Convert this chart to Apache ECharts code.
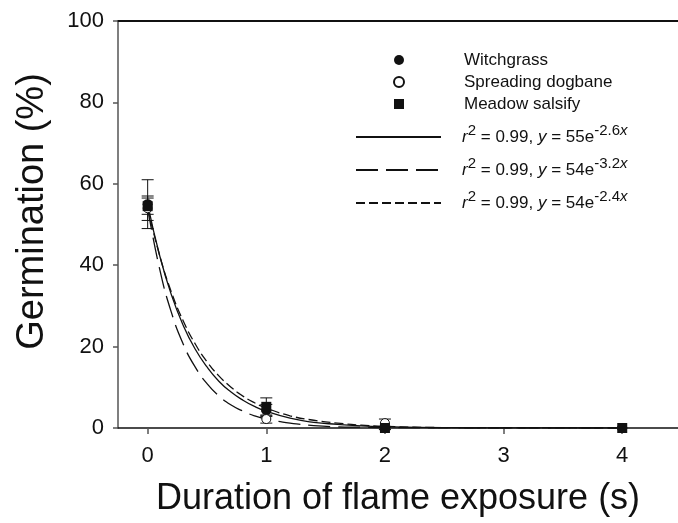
<!DOCTYPE html>
<html>
<head>
<meta charset="utf-8">
<script src="https://cdn.jsdelivr.net/npm/echarts@6/dist/echarts.min.js"></script>
<style>
  html, body { margin: 0; padding: 0; background: #fff; }
  #chart { width: 678px; height: 523px; }
</style>
</head>
<body>
<div id="chart"></div>
<script>
// observed means and error bars
const durations = [0, 1, 2, 4];
const witchgrass = [55, 4.3, 0, 0];
const witchgrassErr = [6, 1.5, 0.3, 0];
const dogbane = [54, 2.2, 1.2, 0];
const dogbaneErr = [3, 1, 1, 0];
const salsify = [54.5, 5.2, 0, 0];
const salsifyErr = [2, 2.2, 0.4, 0];

// fitted curves
const fitX = [0, 0.1, 0.2, 0.3, 0.4, 0.5, 0.6, 0.7, 0.8, 0.9, 1.0, 1.2, 1.4, 1.6, 1.8, 2.0, 2.5, 3, 3.5, 4];
const fitWitch = [55, 42.5, 32.7, 25.2, 19.4, 15.0, 11.5, 8.9, 6.9, 5.3, 4.1, 2.4, 1.4, 0.9, 0.5, 0.3, 0.08, 0.02, 0.01, 0];
const fitDogbane = [54, 39.2, 28.4, 20.6, 15.0, 10.9, 7.9, 5.7, 4.2, 3.0, 2.2, 1.2, 0.6, 0.3, 0.2, 0.1, 0.02, 0, 0, 0];
const fitSalsify = [54, 42.5, 33.4, 26.3, 20.7, 16.3, 12.8, 10.1, 7.9, 6.2, 4.9, 3.0, 1.9, 1.2, 0.7, 0.4, 0.1, 0.04, 0.01, 0];

const xTicks = [0, 1, 2, 3, 4];
const speciesNames = ['Witchgrass', 'Spreading dogbane', 'Meadow salsify'];
const fitNames = ['fitA', 'fitB', 'fitC'];
const fitLabels = [
  '{i|r}{sup|2}{t| = 0.99, }{i|y}{t| = 55e}{sup|-2.6}{supi|x}',
  '{i|r}{sup|2}{t| = 0.99, }{i|y}{t| = 54e}{sup|-3.2}{supi|x}',
  '{i|r}{sup|2}{t| = 0.99, }{i|y}{t| = 54e}{sup|-2.4}{supi|x}'
];

const FONT = '"Liberation Sans", Arial, Helvetica, sans-serif';
const INK = '#111';

function pairs(xs, ys) { return xs.map((x, i) => [x, ys[i]]); }
function errData(ys, es) { return durations.map((x, i) => [x, ys[i] - es[i], ys[i] + es[i]]); }

function errorSeries(ys, es) {
  return {
    type: 'custom',
    silent: true,
    z: 2,
    data: errData(ys, es),
    renderItem: function (params, api) {
      if (api.value(2) - api.value(1) <= 0) return;
      const lo = api.coord([api.value(0), api.value(1)]);
      const hi = api.coord([api.value(0), api.value(2)]);
      const w = 6;
      const st = { stroke: INK, lineWidth: 1 };
      return {
        type: 'group',
        children: [
          { type: 'line', shape: { x1: hi[0], y1: hi[1], x2: lo[0], y2: lo[1] }, style: st },
          { type: 'line', shape: { x1: hi[0] - w, y1: hi[1], x2: hi[0] + w, y2: hi[1] }, style: st },
          { type: 'line', shape: { x1: lo[0] - w, y1: lo[1], x2: lo[0] + w, y2: lo[1] }, style: st }
        ]
      };
    }
  };
}

function fitSeries(name, ys, dash) {
  return {
    name: name,
    type: 'line',
    data: pairs(fitX, ys),
    smooth: true,
    symbol: 'none',
    z: 1,
    color: INK,
    itemStyle: { color: INK },
    lineStyle: { color: INK, width: 1.3, type: dash }
  };
}

const richText = {
  sp: { width: 16 },
  t: { fontSize: 17, fontFamily: FONT, color: INK },
  i: { fontSize: 17, fontFamily: FONT, color: INK, fontStyle: 'italic' },
  sup: { fontSize: 15, fontFamily: FONT, color: INK, padding: [0, 0, 12, 0] },
  supi: { fontSize: 15, fontFamily: FONT, color: INK, fontStyle: 'italic', padding: [0, 0, 12, 0] }
};

const chart = echarts.init(document.getElementById('chart'), null, { renderer: 'canvas' });
chart.setOption({
  animation: false,
  backgroundColor: '#fff',
  grid: { left: 118, top: 21, right: 0, bottom: 95 },
  legend: [
    {
      data: speciesNames,
      orient: 'vertical',
      left: 393,
      top: 50,
      padding: 0,
      itemWidth: 10,
      itemHeight: 10,
      itemGap: 2,
      selectedMode: false,
      formatter: '{sp|}{t|{name}}',
      textStyle: {
        lineHeight: 20,
        rich: Object.assign({}, richText, { sp: { width: 55 } })
      }
    },
    {
      data: fitNames,
      orient: 'vertical',
      left: 355,
      top: 123,
      padding: 0,
      itemWidth: 85,
      itemHeight: 12,
      itemGap: 5,
      selectedMode: false,
      itemStyle: { opacity: 0 },
      lineStyle: { color: INK },
      formatter: function (name) { return '{sp|}' + fitLabels[fitNames.indexOf(name)]; },
      textStyle: { lineHeight: 28, rich: richText }
    }
  ],
  xAxis: [
    {
      type: 'value',
      min: -0.25,
      max: 4.47,
      name: 'Duration of flame exposure (s)',
      nameLocation: 'middle',
      nameGap: 53,
      nameTextStyle: { fontSize: 36, fontFamily: FONT, color: INK },
      axisLine: { onZero: false, lineStyle: { color: INK, width: 1.5 } },
      axisTick: { customValues: xTicks, length: 6, lineStyle: { color: '#555', width: 1.5 } },
      axisLabel: { customValues: xTicks, fontSize: 22, fontFamily: FONT, color: INK, margin: 17 },
      splitLine: { show: false }
    },
    {
      type: 'value',
      position: 'top',
      min: -0.25,
      max: 4.47,
      axisLine: { onZero: false, lineStyle: { color: INK, width: 2 } },
      axisTick: { show: false },
      axisLabel: { show: false },
      splitLine: { show: false }
    }
  ],
  yAxis: {
    type: 'value',
    min: 0,
    max: 100,
    interval: 20,
    name: 'Germination (%)',
    nameLocation: 'middle',
    nameGap: 66,
    nameTextStyle: { fontSize: 38, fontFamily: FONT, color: INK, padding: [0, 0, 0, 26] },
    axisLine: { onZero: false, lineStyle: { color: '#555', width: 1.5 } },
    axisTick: { length: 5, lineStyle: { color: '#555', width: 1.5 } },
    axisLabel: { fontSize: 22, fontFamily: FONT, color: INK, margin: 14 },
    splitLine: { show: false }
  },
  series: [
    errorSeries(witchgrass, witchgrassErr),
    errorSeries(dogbane, dogbaneErr),
    errorSeries(salsify, salsifyErr),
    fitSeries(fitNames[0], fitWitch, 'solid'),
    fitSeries(fitNames[1], fitDogbane, [22, 8]),
    fitSeries(fitNames[2], fitSalsify, [9, 4]),
    {
      name: speciesNames[0],
      type: 'scatter',
      data: pairs(durations, witchgrass),
      symbol: 'circle',
      symbolSize: 10,
      z: 3,
      itemStyle: { color: INK, opacity: 1 }
    },
    {
      name: speciesNames[1],
      type: 'scatter',
      data: pairs(durations, dogbane),
      symbol: 'circle',
      symbolSize: 9,
      z: 4,
      itemStyle: { color: '#fff', borderColor: INK, borderWidth: 1, opacity: 1 }
    },
    {
      name: speciesNames[2],
      type: 'scatter',
      data: pairs(durations, salsify),
      symbol: 'rect',
      symbolSize: 10,
      z: 5,
      itemStyle: { color: INK, opacity: 1 }
    }
  ]
});
</script>
</body>
</html>
